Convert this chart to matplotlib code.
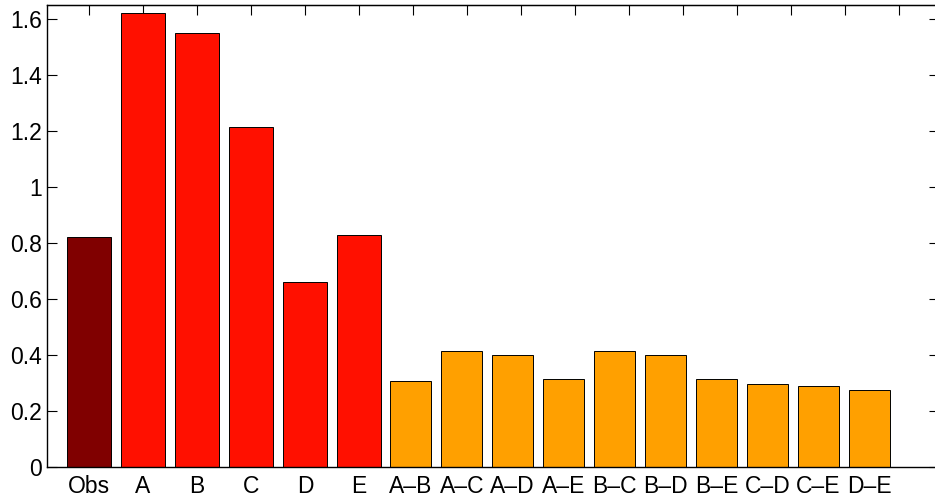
import numpy as np
import matplotlib.pyplot as plt

# bar labels and values
obs_label = ['Obs']
single_labels = ['A', 'B', 'C', 'D', 'E']
pair_labels = ['A–B', 'A–C', 'A–D', 'A–E', 'B–C', 'B–D', 'B–E', 'C–D', 'C–E', 'D–E']

obs_value = [0.821]
single_values = [1.621, 1.549, 1.214, 0.661, 0.829]
pair_values = [0.308, 0.414, 0.399, 0.313, 0.414, 0.399, 0.313, 0.298, 0.290, 0.274]

yticks = [0, 0.2, 0.4, 0.6, 0.8, 1, 1.2, 1.4, 1.6]
ytick_labels = ['0', '0.2', '0.4', '0.6', '0.8', '1', '1.2', '1.4', '1.6']

plt.rcParams['font.family'] = ['Liberation Sans', 'DejaVu Sans']

# positions: first six bars on whole numbers, the pair bars packed a bit tighter
x_obs = np.array([1.0])
x_single = np.arange(2, 7, dtype=float)
x_pair = 6.96 + 0.943 * np.arange(len(pair_values))

fig = plt.figure(figsize=(9.35, 4.97), dpi=100)
ax = fig.add_axes([47 / 935, 30 / 497, 892 / 935, 462 / 497])

ax.bar(x_obs, obs_value, width=0.8, color='#800000', edgecolor='black', linewidth=0.7)
ax.bar(x_single, single_values, width=0.8, color='#ff1000', edgecolor='black', linewidth=0.7)
ax.bar(x_pair, pair_values, width=0.76, color='#ffa000', edgecolor='black', linewidth=0.7)

ax.set_xlim(1 - 42 / 54, 1 + 850 / 54)
ax.set_ylim(0, 1.65)

# bottom labels under each bar, no visible tick marks
ax.set_xticks(np.concatenate([x_obs, x_single, x_pair]))
ax.set_xticklabels(obs_label + single_labels + pair_labels, fontsize=16.5)
ax.tick_params(axis='x', length=0, pad=6)

ax.set_yticks(yticks)
ax.set_yticklabels(ytick_labels, fontsize=16.5)
ax.tick_params(axis='y', direction='in', length=7, width=0.8, right=True, pad=3.5)

# top ticks on whole numbers, MATLAB style
top = ax.secondary_xaxis('top')
top.set_xticks(np.arange(1, 17))
top.set_xticklabels([])
top.tick_params(direction='in', length=7, width=0.8)

for spine in ax.spines.values():
    spine.set_linewidth(1.0)
ax.spines['right'].set_visible(False)

plt.savefig('out.png', dpi=100)
